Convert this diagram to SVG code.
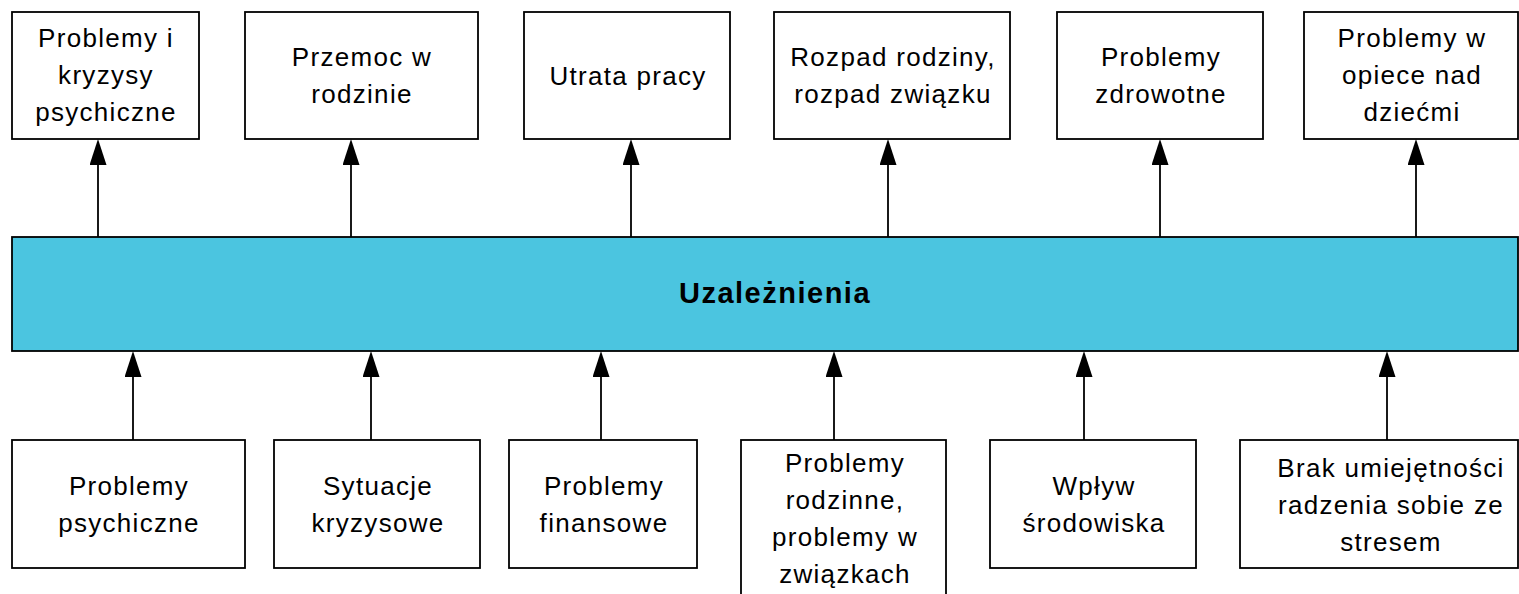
<svg xmlns="http://www.w3.org/2000/svg" width="1519" height="594" viewBox="0 0 1519 594">
<style>
.box{fill:#fff;stroke:#000;stroke-width:1.8}
.bar{fill:#4BC5E0;stroke:#000;stroke-width:1.8}
.t{font-family:"Liberation Sans",Arial,sans-serif;font-size:26px;letter-spacing:1.3px;text-anchor:middle;fill:#000}
.tb{font-family:"Liberation Sans",Arial,sans-serif;font-size:29px;font-weight:bold;letter-spacing:1.5px;text-anchor:middle;fill:#000}
.c{stroke:#000;stroke-width:1.8;fill:none;marker-end:url(#ah)}
</style>
<defs>
<marker id="ah" markerUnits="userSpaceOnUse" markerWidth="26" markerHeight="17" viewBox="0 0 26 17" refX="0" refY="8.5" orient="auto">
<path d="M0,0 L26,8.5 L0,17 Z" fill="#000"/>
</marker>
</defs>
<rect width="1519" height="594" fill="#fff"/>
<g id="connectors">
<line class="c" x1="98" y1="237" x2="98" y2="165"/>
<line class="c" x1="351" y1="237" x2="351" y2="165"/>
<line class="c" x1="631" y1="237" x2="631" y2="165"/>
<line class="c" x1="888" y1="237" x2="888" y2="165"/>
<line class="c" x1="1160" y1="237" x2="1160" y2="165"/>
<line class="c" x1="1416" y1="237" x2="1416" y2="165"/>
<line class="c" x1="133" y1="440" x2="133" y2="377"/>
<line class="c" x1="371" y1="440" x2="371" y2="377"/>
<line class="c" x1="601" y1="440" x2="601" y2="377"/>
<line class="c" x1="834" y1="440" x2="834" y2="377"/>
<line class="c" x1="1084" y1="440" x2="1084" y2="377"/>
<line class="c" x1="1387" y1="440" x2="1387" y2="377"/>
</g>
<g id="main">
<rect class="bar" x="12" y="237" width="1506" height="114"/>
<text class="tb" x="775" y="303">Uzależnienia</text>
</g>
<g id="top1">
<rect class="box" x="12" y="12" width="187" height="127"/>
<text class="t" x="106" y="47">Problemy i</text>
<text class="t" x="106" y="84">kryzysy</text>
<text class="t" x="106" y="121">psychiczne</text>
</g>
<g id="top2">
<rect class="box" x="245" y="12" width="233" height="127"/>
<text class="t" x="362" y="66">Przemoc w</text>
<text class="t" x="362" y="103">rodzinie</text>
</g>
<g id="top3">
<rect class="box" x="524" y="12" width="206" height="127"/>
<text class="t" x="628" y="85">Utrata pracy</text>
</g>
<g id="top4">
<rect class="box" x="774" y="12" width="236" height="127"/>
<text class="t" x="893" y="66">Rozpad rodziny,</text>
<text class="t" x="893" y="103">rozpad związku</text>
</g>
<g id="top5">
<rect class="box" x="1057" y="12" width="206" height="127"/>
<text class="t" x="1161" y="66">Problemy</text>
<text class="t" x="1161" y="103">zdrowotne</text>
</g>
<g id="top6">
<rect class="box" x="1304" y="12" width="214" height="127"/>
<text class="t" x="1412" y="47">Problemy w</text>
<text class="t" x="1412" y="84">opiece nad</text>
<text class="t" x="1412" y="121">dziećmi</text>
</g>
<g id="bot1">
<rect class="box" x="12" y="440" width="233" height="128"/>
<text class="t" x="129" y="495">Problemy</text>
<text class="t" x="129" y="532">psychiczne</text>
</g>
<g id="bot2">
<rect class="box" x="274" y="440" width="206" height="128"/>
<text class="t" x="378" y="495">Sytuacje</text>
<text class="t" x="378" y="532">kryzysowe</text>
</g>
<g id="bot3">
<rect class="box" x="509" y="440" width="188" height="128"/>
<text class="t" x="604" y="495">Problemy</text>
<text class="t" x="604" y="532">finansowe</text>
</g>
<g id="bot4">
<rect class="box" x="741" y="440" width="205" height="160"/>
<text class="t" x="845" y="472">Problemy</text>
<text class="t" x="845" y="509">rodzinne,</text>
<text class="t" x="845" y="546">problemy w</text>
<text class="t" x="845" y="583">związkach</text>
</g>
<g id="bot5">
<rect class="box" x="990" y="440" width="206" height="128"/>
<text class="t" x="1094" y="495">Wpływ</text>
<text class="t" x="1094" y="532">środowiska</text>
</g>
<g id="bot6">
<rect class="box" x="1240" y="440" width="278" height="128"/>
<text class="t" x="1391" y="477">Brak umiejętności</text>
<text class="t" x="1391" y="514">radzenia sobie ze</text>
<text class="t" x="1391" y="551">stresem</text>
</g>
</svg>
